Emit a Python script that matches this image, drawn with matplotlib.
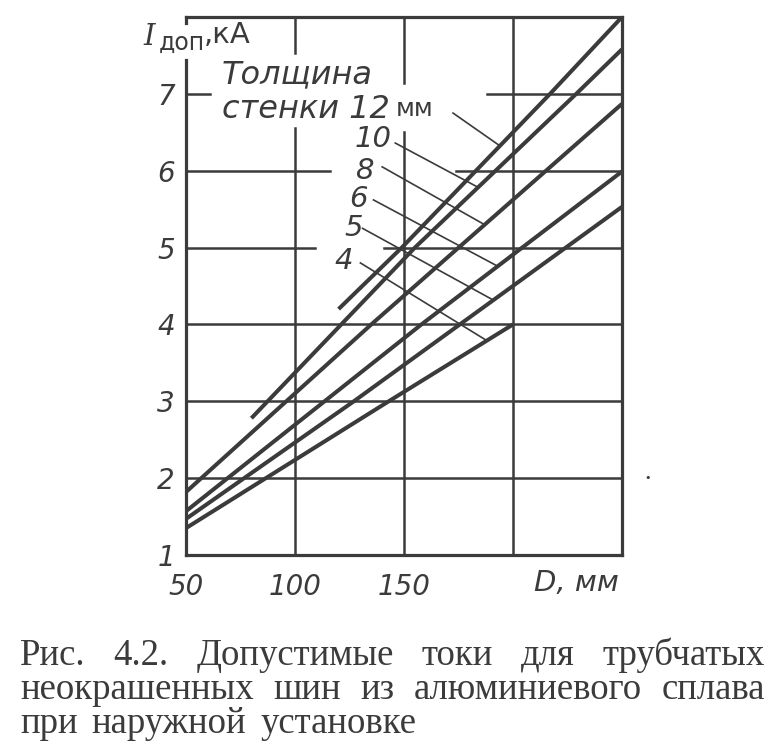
import numpy as np
import matplotlib
matplotlib.use("Agg")
import matplotlib.pyplot as plt

# values: wall thickness (mm) -> points (D, mm ; I, kA)
thickness = [12, 10, 8, 6, 5, 4]
d_12 = [120, 149, 183, 217, 250]
i_12 = [4.2, 5.0, 6.0, 7.0, 8.0]
d_10 = [80, 155, 229, 250]
i_10 = [2.78, 5.0, 7.0, 7.58]
d_8 = [50, 135, 250]
i_8 = [1.82, 4.0, 6.87]
d_6 = [50, 158, 250]
i_6 = [1.57, 4.0, 5.99]
d_5 = [50, 127, 250]
i_5 = [1.47, 3.0, 5.53]
d_4 = [50, 143, 200]
i_4 = [1.35, 3.0, 4.0]

curves_d = [d_12, d_10, d_8, d_6, d_5, d_4]
curves_i = [i_12, i_10, i_8, i_6, i_5, i_4]

# label text / label position / leader start / leader target D on the curve
label_text = ["", "10", "8", "6", "5", "4"]
label_pos = [None, (136, 6.41), (132, 6.0), (129, 5.63), (127, 5.25), (122.5, 4.82)]
leader_start = [(172.5, 6.75), (146, 6.36), (140, 6.05), (136, 5.62), (131, 5.25), (130, 4.80)]
leader_to = [194, 184, 187, 193, 191, 188]

x_ticks = [50, 100, 150]
y_ticks = [1, 2, 3, 4, 5, 6, 7]

caption = ["Рис. 4.2. Допустимые токи для трубчатых",
           "неокрашенных шин из алюминиевого сплава",
           "при наружной установке"]

ink = "#3b3b3b"
W, H = 773, 753

fig = plt.figure(figsize=(W / 100, H / 100), dpi=100)
ax = fig.add_axes([186 / W, 1 - 555 / H, 436 / W, 538 / H])
ax.set_xlim(50, 250)
ax.set_ylim(1, 8)
for s in ax.spines.values():
    s.set_visible(False)


def hline(y, spans, lw):
    for a, b in spans:
        ax.plot([a, b], [y, y], color=ink, lw=lw, solid_capstyle="projecting",
                clip_on=False, zorder=1)


def vline(x, spans, lw):
    for a, b in spans:
        ax.plot([x, x], [a, b], color=ink, lw=lw, solid_capstyle="projecting",
                clip_on=False, zorder=1)


# grid, broken where the labels sit
hline(7, [(50, 61), (188, 250)], 1.8)
hline(6, [(50, 116), (174, 250)], 1.8)
hline(5, [(50, 109), (141, 250)], 1.8)
for y in [2, 3, 4]:
    hline(y, [(50, 250)], 1.8)
vline(100, [(1, 6.55), (7.53, 8)], 1.8)
vline(150, [(1, 6.5), (7.14, 8)], 1.8)
vline(200, [(1, 8)], 1.8)

# frame
hline(1, [(50, 250)], 2.3)
hline(8, [(50, 250)], 2.3)
vline(250, [(1, 8)], 2.3)
vline(50, [(1, 7.44), (7.92, 8)], 2.3)

# curves
for d, i in zip(curves_d, curves_i):
    ax.plot(d, i, color=ink, lw=2.9, solid_capstyle="butt", zorder=3)

# leaders and numbers
for k in range(len(thickness)):
    x0, y0 = leader_start[k]
    xt = leader_to[k]
    yt = np.interp(xt, curves_d[k], curves_i[k])
    ax.plot([x0, xt], [y0, yt], color=ink, lw=1.2, zorder=2)
    if label_pos[k] is not None:
        ax.text(label_pos[k][0], label_pos[k][1], label_text[k], color=ink,
                fontsize=21, fontstyle="italic", ha="center", va="center")

ax.text(66.5, 7.25, "Толщина", color=ink, fontsize=23, fontstyle="italic",
        ha="left", va="center")
t12 = ax.text(66.5, 6.8, "стенки 12", color=ink, fontsize=23, fontstyle="italic",
              ha="left", va="center")
ax.annotate("мм", xy=(1, 0.5), xycoords=t12, xytext=(4, 0),
            textcoords="offset points", color=ink, fontsize=18, va="center")

# ticks
ax.set_xticks(x_ticks)
ax.set_yticks(y_ticks)
ax.tick_params(length=0, labelsize=20, colors=ink)
ax.tick_params(axis="y", pad=8)
ax.tick_params(axis="x", pad=13)
for lab in ax.get_xticklabels() + ax.get_yticklabels():
    lab.set_fontstyle("italic")

ax.text(229, 0.64, "D, мм", color=ink, fontsize=21, fontstyle="italic",
        ha="center", va="center", clip_on=False)

# axis name in the top-left corner
fig.text(143 / W, 1 - 45 / H, "I", color=ink, fontsize=21, fontstyle="italic",
         family="DejaVu Serif", va="baseline")
fig.text(159 / W, 1 - 50 / H, "доп", color=ink, fontsize=17, va="baseline")
fig.text(204 / W, 1 - 43 / H, ",кА", color=ink, fontsize=21, va="baseline")

# scan speck
fig.text(648 / W, 1 - 478 / H, "•", color=ink, fontsize=8, ha="center", va="center")

# caption, justified like the book
cap_font = dict(color=ink, fontsize=26.5, family="Liberation Serif", va="baseline")
baselines = [665, 699, 733]
fig.canvas.draw()
renderer = fig.canvas.get_renderer()
for n, line in enumerate(caption):
    words = line.split()
    texts = [fig.text(0, 1 - baselines[n] / H, w, **cap_font) for w in words]
    widths = [t.get_window_extent(renderer).width for t in texts]
    if n < 2:
        gap = (765 - 20 - sum(widths)) / (len(words) - 1)
    else:
        gap = 14
    x = 20
    for t, w in zip(texts, widths):
        t.set_x(x / W)
        x += w + gap

fig.savefig("out.png", dpi=100, facecolor="white")
